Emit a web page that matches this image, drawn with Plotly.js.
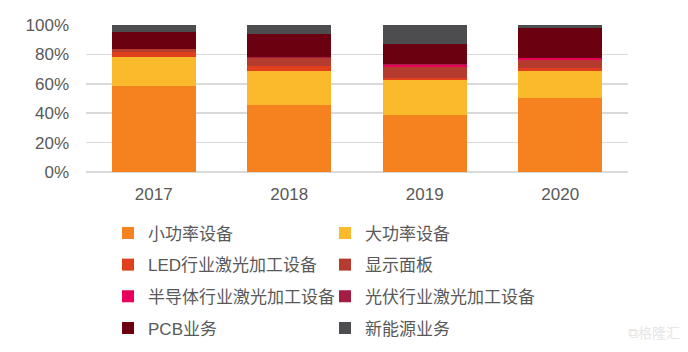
<!DOCTYPE html>
<html>
<head>
<meta charset="utf-8">
<script src="https://cdn.plot.ly/plotly-3.0.1.min.js"></script>
<style>html,body{margin:0;padding:0;background:#fff;}#chart{width:688px;height:352px;}</style>
</head>
<body>
<div id="chart"></div>
<script>
var years = ['2017', '2018', '2019', '2020'];
var seriesNames = ['小功率设备', '大功率设备', 'LED行业激光加工设备', '显示面板', '半导体行业激光加工设备', '光伏行业激光加工设备', 'PCB业务', '新能源业务'];
var smallPower = [58.4, 45.9, 39.1, 50.4];
var bigPower = [20.0, 22.7, 23.4, 18.2];
var ledEquip = [3.4, 3.7, 1.6, 1.9];
var displayPanel = [1.6, 5.4, 7.5, 5.9];
var semiEquip = [0.2, 0.1, 1.1, 1.1];
var solarEquip = [0.3, 0.2, 0.5, 0.2];
var pcbBiz = [11.1, 15.7, 14.1, 20.0];
var newEnergy = [5.0, 6.3, 12.7, 2.3];
var tickVals = [0, 20, 40, 60, 80, 100];
var tickText = ['0%', '20%', '40%', '60%', '80%', '100%'];

var seriesValues = [smallPower, bigPower, ledEquip, displayPanel, semiEquip, solarEquip, pcbBiz, newEnergy];
var colors = ['#F5821F', '#FBBA2C', '#E0401C', '#B43B2E', '#E8005A', '#A21C43', '#6A0010', '#4D4D4F'];
var legendIds = ['legend', 'legend', 'legend2', 'legend2', 'legend3', 'legend3', 'legend4', 'legend4'];

var traces = seriesNames.map(function (n, i) {
  return {
    type: 'bar', name: n, x: years, y: seriesValues[i],
    marker: {color: colors[i], line: {width: 0}},
    legend: legendIds[i], hoverinfo: 'skip'
  };
});

var legFont = {family: 'Liberation Sans, Noto Sans CJK SC, sans-serif', size: 17, color: '#595959'};
function leg(yc) {
  return {orientation: 'h', xref: 'container', yref: 'container', x: 0.157, y: yc, xanchor: 'left', yanchor: 'middle',
    font: legFont, entrywidth: 172, traceorder: 'normal', bgcolor: 'rgba(0,0,0,0)'};
}

var layout = {
  width: 688, height: 352,
  margin: {l: 86, r: 60, t: 25, b: 180},
  barmode: 'stack', bargap: 0.38,
  paper_bgcolor: '#fff', plot_bgcolor: '#fff',
  font: {family: 'Liberation Sans, Noto Sans CJK SC, sans-serif', color: '#595959'},
  xaxis: {type: 'category', tickfont: {size: 17, color: '#595959'}, showgrid: false, ticks: '', showline: false, zeroline: false, ticklabelstandoff: 10},
  yaxis: {range: [0, 100], tickmode: 'array', tickvals: tickVals, ticktext: tickText, tickfont: {size: 17, color: '#595959'},
    gridcolor: '#D9D9D9', gridwidth: 1.5, zeroline: true, zerolinecolor: '#D9D9D9', zerolinewidth: 1.5, showline: false, ticks: '', ticklabelstandoff: 16},
  legend: leg(0.337),
  legend2: leg(0.247),
  legend3: leg(0.157),
  legend4: leg(0.067),
  showlegend: true,
  annotations: [{xref: 'paper', yref: 'paper', x: 1.1, y: -1.17, xanchor: 'right', yanchor: 'bottom', text: '⧉格隆汇', showarrow: false,
    font: {size: 14, color: '#E6E6E6', family: 'Noto Sans CJK SC'}}]
};

Plotly.newPlot('chart', traces, layout, {displayModeBar: false, staticPlot: true});
</script>
</body>
</html>
